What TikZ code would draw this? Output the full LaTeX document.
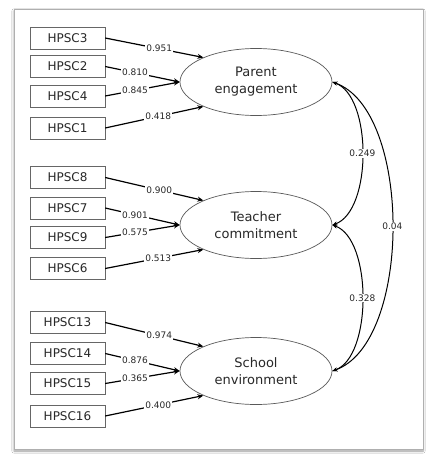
\documentclass[tikz,border=0pt]{standalone}
\usepackage{fontspec}
\setmainfont{DejaVu Sans}
\usetikzlibrary{shapes.geometric, arrows.meta, shadows.blur}
\definecolor{framegray}{RGB}{175,175,175}
\definecolor{textgray}{RGB}{40,40,40}

\begin{document}
\begin{tikzpicture}[
    x=1pt, y=-1pt,
    item/.style={draw=gray!80!black, minimum width=75pt, minimum height=22pt, inner sep=0pt, font=\fontsize{12}{14}\selectfont, text=textgray},
    factor/.style={ellipse, draw=gray!70!black, line width=0.7pt, minimum width=152pt, minimum height=67pt, inner sep=0pt, align=center, font=\fontsize{13}{17}\selectfont, text=textgray},
    load/.style={-{Stealth[length=6pt,width=5pt]}, line width=1.2pt},
    cov/.style={{Stealth[length=5pt,width=4pt]}-{Stealth[length=5pt,width=4pt]}, line width=1pt},
    coef/.style={fill=white, inner sep=1pt, font=\fontsize{9}{10}\selectfont, text=textgray}
]
    \useasboundingbox (0,0) rectangle (437,469);
    \fill[white] (0,0) rectangle (437,469);
    \draw[framegray, fill=white, line width=1pt, blur shadow={shadow xshift=0pt, shadow yshift=-2pt, shadow blur steps=6}] (14,9) rectangle (423,449);

    % latent factors
    \node[factor] (parent) at (256,82) {Parent\\engagement};
    \node[factor] (teacher) at (256,225) {Teacher\\commitment};
    \node[factor] (school) at (256,371) {School\\environment};

    % indicators
    \node[item] (h3) at (67.5,38) {HPSC3};
    \node[item] (h2) at (67.5,66.5) {HPSC2};
    \node[item] (h4) at (67.5,96) {HPSC4};
    \node[item] (h1) at (67.5,128) {HPSC1};

    \node[item] (h8) at (67.5,177.5) {HPSC8};
    \node[item] (h7) at (67.5,208) {HPSC7};
    \node[item] (h9) at (67.5,237.5) {HPSC9};
    \node[item] (h6) at (67.5,268.5) {HPSC6};

    \node[item] (h13) at (67.5,322.5) {HPSC13};
    \node[item] (h14) at (67.5,353.5) {HPSC14};
    \node[item] (h15) at (67.5,383.5) {HPSC15};
    \node[item] (h16) at (67.5,416) {HPSC16};

    % loadings
    \draw[load] (h3.east) -- node[coef, pos=0.55] {0.951} (parent.155);
    \draw[load] (h2.east) -- node[coef, pos=0.4] {0.810} (parent.west);
    \draw[load] (h4.east) -- node[coef, pos=0.4] {0.845} (parent.west);
    \draw[load] (h1.east) -- node[coef, pos=0.54] {0.418} (parent.205);

    \draw[load] (h8.east) -- node[coef, pos=0.55] {0.900} (teacher.155);
    \draw[load] (h7.east) -- node[coef, pos=0.4] {0.901} (teacher.west);
    \draw[load] (h9.east) -- node[coef, pos=0.4] {0.575} (teacher.west);
    \draw[load] (h6.east) -- node[coef, pos=0.54] {0.513} (teacher.205);

    \draw[load] (h13.east) -- node[coef, pos=0.55] {0.974} (school.155);
    \draw[load] (h14.east) -- node[coef, pos=0.4] {0.876} (school.west);
    \draw[load] (h15.east) -- node[coef, pos=0.4] {0.365} (school.west);
    \draw[load] (h16.east) -- node[coef, pos=0.54] {0.400} (school.205);

    % covariances
    \draw[cov] (parent.east) .. controls +(40,14) and +(40,-14) .. node[coef] {0.249} (teacher.east);
    \draw[cov] (teacher.east) .. controls +(40,14) and +(40,-14) .. node[coef] {0.328} (school.east);
    \draw[cov] (parent.east) .. controls +(80,28) and +(80,-28) .. node[coef] {0.04} (school.east);
\end{tikzpicture}
\end{document}
